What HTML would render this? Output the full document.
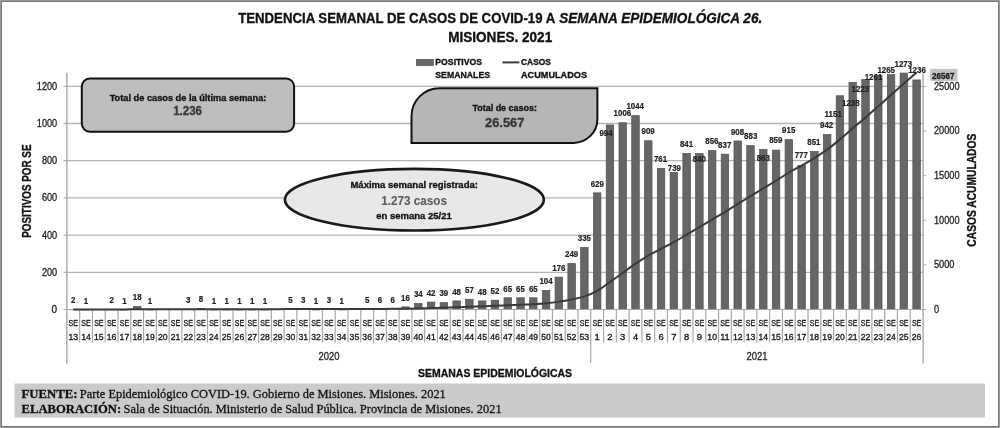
<!DOCTYPE html><html><head><meta charset="utf-8"><style>html,body{margin:0;padding:0;background:#fff;}svg{display:block;filter:grayscale(1);}text{font-family:"Liberation Sans",sans-serif;}</style></head><body>
<svg width="1000" height="428" viewBox="0 0 1000 428">
<rect x="0" y="0" width="1000" height="428" fill="#fff"/>
<rect x="0.5" y="0.5" width="999" height="427" fill="none" stroke="#9a9a9a" stroke-width="1"/>
<rect x="1.5" y="1.5" width="997" height="425" fill="none" stroke="#767676" stroke-width="1"/>
<text x="238.2" y="22.5" font-size="14" font-weight="bold" fill="#111" stroke="#111" stroke-width="0.32" textLength="317" lengthAdjust="spacingAndGlyphs">TENDENCIA SEMANAL DE CASOS DE COVID-19 A</text>
<text x="559.2" y="22.5" font-size="14" font-weight="bold" font-style="italic" fill="#111" stroke="#111" stroke-width="0.32" textLength="203" lengthAdjust="spacingAndGlyphs">SEMANA EPIDEMIOLÓGICA 26.</text>
<text x="448.2" y="42" font-size="14" font-weight="bold" fill="#111" stroke="#111" stroke-width="0.32" textLength="104" lengthAdjust="spacingAndGlyphs">MISIONES. 2021</text>
<line x1="63.5" y1="272.30" x2="923.0" y2="272.30" stroke="#b4b4b4" stroke-width="1.3"/>
<text x="57.2" y="275.7" font-size="10" fill="#222" stroke="#222" stroke-width="0.28" text-anchor="end" textLength="15.3" lengthAdjust="spacingAndGlyphs">200</text>
<line x1="63.5" y1="235.10" x2="923.0" y2="235.10" stroke="#b4b4b4" stroke-width="1.3"/>
<text x="57.2" y="238.5" font-size="10" fill="#222" stroke="#222" stroke-width="0.28" text-anchor="end" textLength="15.3" lengthAdjust="spacingAndGlyphs">400</text>
<line x1="63.5" y1="197.90" x2="923.0" y2="197.90" stroke="#b4b4b4" stroke-width="1.3"/>
<text x="57.2" y="201.3" font-size="10" fill="#222" stroke="#222" stroke-width="0.28" text-anchor="end" textLength="15.3" lengthAdjust="spacingAndGlyphs">600</text>
<line x1="63.5" y1="160.70" x2="923.0" y2="160.70" stroke="#b4b4b4" stroke-width="1.3"/>
<text x="57.2" y="164.1" font-size="10" fill="#222" stroke="#222" stroke-width="0.28" text-anchor="end" textLength="15.3" lengthAdjust="spacingAndGlyphs">800</text>
<line x1="63.5" y1="123.50" x2="923.0" y2="123.50" stroke="#b4b4b4" stroke-width="1.3"/>
<text x="57.2" y="126.9" font-size="10" fill="#222" stroke="#222" stroke-width="0.28" text-anchor="end" textLength="20.4" lengthAdjust="spacingAndGlyphs">1000</text>
<line x1="63.5" y1="86.30" x2="923.0" y2="86.30" stroke="#b4b4b4" stroke-width="1.3"/>
<text x="57.2" y="89.7" font-size="10" fill="#222" stroke="#222" stroke-width="0.28" text-anchor="end" textLength="20.4" lengthAdjust="spacingAndGlyphs">1200</text>
<text x="57.0" y="312.9" font-size="10" fill="#222" stroke="#222" stroke-width="0.28" text-anchor="end">0</text>
<line x1="923.0" y1="309.5" x2="926" y2="309.5" stroke="#a8a8a8" stroke-width="1"/>
<text x="934" y="312.7" font-size="10" fill="#222" stroke="#222" stroke-width="0.28" textLength="5.1" lengthAdjust="spacingAndGlyphs">0</text>
<line x1="923.0" y1="264.9" x2="926" y2="264.9" stroke="#a8a8a8" stroke-width="1"/>
<text x="934" y="268.1" font-size="10" fill="#222" stroke="#222" stroke-width="0.28" textLength="20.5" lengthAdjust="spacingAndGlyphs">5000</text>
<line x1="923.0" y1="220.3" x2="926" y2="220.3" stroke="#a8a8a8" stroke-width="1"/>
<text x="934" y="223.5" font-size="10" fill="#222" stroke="#222" stroke-width="0.28" textLength="25.6" lengthAdjust="spacingAndGlyphs">10000</text>
<line x1="923.0" y1="175.7" x2="926" y2="175.7" stroke="#a8a8a8" stroke-width="1"/>
<text x="934" y="178.9" font-size="10" fill="#222" stroke="#222" stroke-width="0.28" textLength="25.6" lengthAdjust="spacingAndGlyphs">15000</text>
<line x1="923.0" y1="131.1" x2="926" y2="131.1" stroke="#a8a8a8" stroke-width="1"/>
<text x="934" y="134.3" font-size="10" fill="#222" stroke="#222" stroke-width="0.28" textLength="25.6" lengthAdjust="spacingAndGlyphs">20000</text>
<line x1="923.0" y1="86.5" x2="926" y2="86.5" stroke="#a8a8a8" stroke-width="1"/>
<text x="934" y="89.7" font-size="10" fill="#222" stroke="#222" stroke-width="0.28" textLength="25.6" lengthAdjust="spacingAndGlyphs">25000</text>
<rect x="69.54" y="309.48" width="7.50" height="0.30" fill="#666666" stroke="#505050" stroke-width="0.7"/>
<rect x="82.32" y="309.66" width="7.50" height="0.30" fill="#666666" stroke="#505050" stroke-width="0.7"/>
<rect x="107.87" y="309.48" width="7.50" height="0.30" fill="#666666" stroke="#505050" stroke-width="0.7"/>
<rect x="120.65" y="309.66" width="7.50" height="0.30" fill="#666666" stroke="#505050" stroke-width="0.7"/>
<rect x="133.43" y="306.50" width="7.50" height="3.00" fill="#666666" stroke="#505050" stroke-width="0.7"/>
<rect x="146.20" y="309.66" width="7.50" height="0.30" fill="#666666" stroke="#505050" stroke-width="0.7"/>
<rect x="184.54" y="309.29" width="7.50" height="0.30" fill="#666666" stroke="#505050" stroke-width="0.7"/>
<rect x="197.31" y="308.36" width="7.50" height="1.14" fill="#666666" stroke="#505050" stroke-width="0.7"/>
<rect x="210.09" y="309.66" width="7.50" height="0.30" fill="#666666" stroke="#505050" stroke-width="0.7"/>
<rect x="222.87" y="309.66" width="7.50" height="0.30" fill="#666666" stroke="#505050" stroke-width="0.7"/>
<rect x="235.65" y="309.66" width="7.50" height="0.30" fill="#666666" stroke="#505050" stroke-width="0.7"/>
<rect x="248.43" y="309.66" width="7.50" height="0.30" fill="#666666" stroke="#505050" stroke-width="0.7"/>
<rect x="261.20" y="309.66" width="7.50" height="0.30" fill="#666666" stroke="#505050" stroke-width="0.7"/>
<rect x="286.76" y="308.92" width="7.50" height="0.58" fill="#666666" stroke="#505050" stroke-width="0.7"/>
<rect x="299.54" y="309.29" width="7.50" height="0.30" fill="#666666" stroke="#505050" stroke-width="0.7"/>
<rect x="312.31" y="309.66" width="7.50" height="0.30" fill="#666666" stroke="#505050" stroke-width="0.7"/>
<rect x="325.09" y="309.29" width="7.50" height="0.30" fill="#666666" stroke="#505050" stroke-width="0.7"/>
<rect x="337.87" y="309.66" width="7.50" height="0.30" fill="#666666" stroke="#505050" stroke-width="0.7"/>
<rect x="363.42" y="308.92" width="7.50" height="0.58" fill="#666666" stroke="#505050" stroke-width="0.7"/>
<rect x="376.20" y="308.73" width="7.50" height="0.77" fill="#666666" stroke="#505050" stroke-width="0.7"/>
<rect x="388.98" y="308.73" width="7.50" height="0.77" fill="#666666" stroke="#505050" stroke-width="0.7"/>
<rect x="401.76" y="306.87" width="7.50" height="2.63" fill="#666666" stroke="#505050" stroke-width="0.7"/>
<rect x="414.53" y="303.53" width="7.50" height="5.97" fill="#666666" stroke="#505050" stroke-width="0.7"/>
<rect x="427.31" y="302.04" width="7.50" height="7.46" fill="#666666" stroke="#505050" stroke-width="0.7"/>
<rect x="440.09" y="302.60" width="7.50" height="6.90" fill="#666666" stroke="#505050" stroke-width="0.7"/>
<rect x="452.87" y="300.92" width="7.50" height="8.58" fill="#666666" stroke="#505050" stroke-width="0.7"/>
<rect x="465.64" y="299.25" width="7.50" height="10.25" fill="#666666" stroke="#505050" stroke-width="0.7"/>
<rect x="478.42" y="300.92" width="7.50" height="8.58" fill="#666666" stroke="#505050" stroke-width="0.7"/>
<rect x="491.20" y="300.18" width="7.50" height="9.32" fill="#666666" stroke="#505050" stroke-width="0.7"/>
<rect x="503.98" y="297.76" width="7.50" height="11.74" fill="#666666" stroke="#505050" stroke-width="0.7"/>
<rect x="516.76" y="297.76" width="7.50" height="11.74" fill="#666666" stroke="#505050" stroke-width="0.7"/>
<rect x="529.53" y="297.76" width="7.50" height="11.74" fill="#666666" stroke="#505050" stroke-width="0.7"/>
<rect x="542.31" y="290.51" width="7.50" height="18.99" fill="#666666" stroke="#505050" stroke-width="0.7"/>
<rect x="555.09" y="277.11" width="7.50" height="32.39" fill="#666666" stroke="#505050" stroke-width="0.7"/>
<rect x="567.87" y="263.54" width="7.50" height="45.96" fill="#666666" stroke="#505050" stroke-width="0.7"/>
<rect x="580.64" y="247.54" width="7.50" height="61.96" fill="#666666" stroke="#505050" stroke-width="0.7"/>
<rect x="593.42" y="192.86" width="7.50" height="116.64" fill="#666666" stroke="#505050" stroke-width="0.7"/>
<rect x="606.20" y="124.97" width="7.50" height="184.53" fill="#666666" stroke="#505050" stroke-width="0.7"/>
<rect x="618.98" y="122.73" width="7.50" height="186.77" fill="#666666" stroke="#505050" stroke-width="0.7"/>
<rect x="631.75" y="115.67" width="7.50" height="193.83" fill="#666666" stroke="#505050" stroke-width="0.7"/>
<rect x="644.53" y="140.78" width="7.50" height="168.72" fill="#666666" stroke="#505050" stroke-width="0.7"/>
<rect x="657.31" y="168.30" width="7.50" height="141.20" fill="#666666" stroke="#505050" stroke-width="0.7"/>
<rect x="670.09" y="172.40" width="7.50" height="137.10" fill="#666666" stroke="#505050" stroke-width="0.7"/>
<rect x="682.86" y="153.42" width="7.50" height="156.08" fill="#666666" stroke="#505050" stroke-width="0.7"/>
<rect x="695.64" y="153.61" width="7.50" height="155.89" fill="#666666" stroke="#505050" stroke-width="0.7"/>
<rect x="708.42" y="150.63" width="7.50" height="158.87" fill="#666666" stroke="#505050" stroke-width="0.7"/>
<rect x="721.20" y="154.17" width="7.50" height="155.33" fill="#666666" stroke="#505050" stroke-width="0.7"/>
<rect x="733.97" y="140.96" width="7.50" height="168.54" fill="#666666" stroke="#505050" stroke-width="0.7"/>
<rect x="746.75" y="145.61" width="7.50" height="163.89" fill="#666666" stroke="#505050" stroke-width="0.7"/>
<rect x="759.53" y="149.33" width="7.50" height="160.17" fill="#666666" stroke="#505050" stroke-width="0.7"/>
<rect x="772.31" y="150.08" width="7.50" height="159.42" fill="#666666" stroke="#505050" stroke-width="0.7"/>
<rect x="785.09" y="139.66" width="7.50" height="169.84" fill="#666666" stroke="#505050" stroke-width="0.7"/>
<rect x="797.86" y="165.33" width="7.50" height="144.17" fill="#666666" stroke="#505050" stroke-width="0.7"/>
<rect x="810.64" y="151.56" width="7.50" height="157.94" fill="#666666" stroke="#505050" stroke-width="0.7"/>
<rect x="823.42" y="134.64" width="7.50" height="174.86" fill="#666666" stroke="#505050" stroke-width="0.7"/>
<rect x="836.20" y="95.76" width="7.50" height="213.74" fill="#666666" stroke="#505050" stroke-width="0.7"/>
<rect x="848.97" y="82.37" width="7.50" height="227.13" fill="#666666" stroke="#505050" stroke-width="0.7"/>
<rect x="861.75" y="79.58" width="7.50" height="229.92" fill="#666666" stroke="#505050" stroke-width="0.7"/>
<rect x="874.53" y="75.30" width="7.50" height="234.20" fill="#666666" stroke="#505050" stroke-width="0.7"/>
<rect x="887.31" y="74.56" width="7.50" height="234.94" fill="#666666" stroke="#505050" stroke-width="0.7"/>
<rect x="900.08" y="73.07" width="7.50" height="236.43" fill="#666666" stroke="#505050" stroke-width="0.7"/>
<rect x="912.86" y="79.95" width="7.50" height="229.55" fill="#666666" stroke="#505050" stroke-width="0.7"/>
<line x1="66.8" y1="72.8" x2="66.8" y2="363.5" stroke="#a8a8a8" stroke-width="1.4"/>
<line x1="923.1" y1="73.5" x2="923.1" y2="363.5" stroke="#a8a8a8" stroke-width="1.4"/>
<line x1="63.5" y1="309.5" x2="926" y2="309.5" stroke="#a8a8a8" stroke-width="1"/>
<line x1="79.68" y1="309.5" x2="79.68" y2="342.6" stroke="#a8a8a8" stroke-width="1.2"/>
<line x1="92.46" y1="309.5" x2="92.46" y2="342.6" stroke="#a8a8a8" stroke-width="1.2"/>
<line x1="105.23" y1="309.5" x2="105.23" y2="342.6" stroke="#a8a8a8" stroke-width="1.2"/>
<line x1="118.01" y1="309.5" x2="118.01" y2="342.6" stroke="#a8a8a8" stroke-width="1.2"/>
<line x1="130.79" y1="309.5" x2="130.79" y2="342.6" stroke="#a8a8a8" stroke-width="1.2"/>
<line x1="143.57" y1="309.5" x2="143.57" y2="342.6" stroke="#a8a8a8" stroke-width="1.2"/>
<line x1="156.34" y1="309.5" x2="156.34" y2="342.6" stroke="#a8a8a8" stroke-width="1.2"/>
<line x1="169.12" y1="309.5" x2="169.12" y2="342.6" stroke="#a8a8a8" stroke-width="1.2"/>
<line x1="181.90" y1="309.5" x2="181.90" y2="342.6" stroke="#a8a8a8" stroke-width="1.2"/>
<line x1="194.68" y1="309.5" x2="194.68" y2="342.6" stroke="#a8a8a8" stroke-width="1.2"/>
<line x1="207.45" y1="309.5" x2="207.45" y2="342.6" stroke="#a8a8a8" stroke-width="1.2"/>
<line x1="220.23" y1="309.5" x2="220.23" y2="342.6" stroke="#a8a8a8" stroke-width="1.2"/>
<line x1="233.01" y1="309.5" x2="233.01" y2="342.6" stroke="#a8a8a8" stroke-width="1.2"/>
<line x1="245.79" y1="309.5" x2="245.79" y2="342.6" stroke="#a8a8a8" stroke-width="1.2"/>
<line x1="258.56" y1="309.5" x2="258.56" y2="342.6" stroke="#a8a8a8" stroke-width="1.2"/>
<line x1="271.34" y1="309.5" x2="271.34" y2="342.6" stroke="#a8a8a8" stroke-width="1.2"/>
<line x1="284.12" y1="309.5" x2="284.12" y2="342.6" stroke="#a8a8a8" stroke-width="1.2"/>
<line x1="296.90" y1="309.5" x2="296.90" y2="342.6" stroke="#a8a8a8" stroke-width="1.2"/>
<line x1="309.67" y1="309.5" x2="309.67" y2="342.6" stroke="#a8a8a8" stroke-width="1.2"/>
<line x1="322.45" y1="309.5" x2="322.45" y2="342.6" stroke="#a8a8a8" stroke-width="1.2"/>
<line x1="335.23" y1="309.5" x2="335.23" y2="342.6" stroke="#a8a8a8" stroke-width="1.2"/>
<line x1="348.01" y1="309.5" x2="348.01" y2="342.6" stroke="#a8a8a8" stroke-width="1.2"/>
<line x1="360.79" y1="309.5" x2="360.79" y2="342.6" stroke="#a8a8a8" stroke-width="1.2"/>
<line x1="373.56" y1="309.5" x2="373.56" y2="342.6" stroke="#a8a8a8" stroke-width="1.2"/>
<line x1="386.34" y1="309.5" x2="386.34" y2="342.6" stroke="#a8a8a8" stroke-width="1.2"/>
<line x1="399.12" y1="309.5" x2="399.12" y2="342.6" stroke="#a8a8a8" stroke-width="1.2"/>
<line x1="411.90" y1="309.5" x2="411.90" y2="342.6" stroke="#a8a8a8" stroke-width="1.2"/>
<line x1="424.67" y1="309.5" x2="424.67" y2="342.6" stroke="#a8a8a8" stroke-width="1.2"/>
<line x1="437.45" y1="309.5" x2="437.45" y2="342.6" stroke="#a8a8a8" stroke-width="1.2"/>
<line x1="450.23" y1="309.5" x2="450.23" y2="342.6" stroke="#a8a8a8" stroke-width="1.2"/>
<line x1="463.01" y1="309.5" x2="463.01" y2="342.6" stroke="#a8a8a8" stroke-width="1.2"/>
<line x1="475.78" y1="309.5" x2="475.78" y2="342.6" stroke="#a8a8a8" stroke-width="1.2"/>
<line x1="488.56" y1="309.5" x2="488.56" y2="342.6" stroke="#a8a8a8" stroke-width="1.2"/>
<line x1="501.34" y1="309.5" x2="501.34" y2="342.6" stroke="#a8a8a8" stroke-width="1.2"/>
<line x1="514.12" y1="309.5" x2="514.12" y2="342.6" stroke="#a8a8a8" stroke-width="1.2"/>
<line x1="526.89" y1="309.5" x2="526.89" y2="342.6" stroke="#a8a8a8" stroke-width="1.2"/>
<line x1="539.67" y1="309.5" x2="539.67" y2="342.6" stroke="#a8a8a8" stroke-width="1.2"/>
<line x1="552.45" y1="309.5" x2="552.45" y2="342.6" stroke="#a8a8a8" stroke-width="1.2"/>
<line x1="565.23" y1="309.5" x2="565.23" y2="342.6" stroke="#a8a8a8" stroke-width="1.2"/>
<line x1="578.00" y1="309.5" x2="578.00" y2="342.6" stroke="#a8a8a8" stroke-width="1.2"/>
<line x1="590.78" y1="309.5" x2="590.78" y2="363" stroke="#a8a8a8" stroke-width="1.2"/>
<line x1="603.56" y1="309.5" x2="603.56" y2="342.6" stroke="#a8a8a8" stroke-width="1.2"/>
<line x1="616.34" y1="309.5" x2="616.34" y2="342.6" stroke="#a8a8a8" stroke-width="1.2"/>
<line x1="629.11" y1="309.5" x2="629.11" y2="342.6" stroke="#a8a8a8" stroke-width="1.2"/>
<line x1="641.89" y1="309.5" x2="641.89" y2="342.6" stroke="#a8a8a8" stroke-width="1.2"/>
<line x1="654.67" y1="309.5" x2="654.67" y2="342.6" stroke="#a8a8a8" stroke-width="1.2"/>
<line x1="667.45" y1="309.5" x2="667.45" y2="342.6" stroke="#a8a8a8" stroke-width="1.2"/>
<line x1="680.23" y1="309.5" x2="680.23" y2="342.6" stroke="#a8a8a8" stroke-width="1.2"/>
<line x1="693.00" y1="309.5" x2="693.00" y2="342.6" stroke="#a8a8a8" stroke-width="1.2"/>
<line x1="705.78" y1="309.5" x2="705.78" y2="342.6" stroke="#a8a8a8" stroke-width="1.2"/>
<line x1="718.56" y1="309.5" x2="718.56" y2="342.6" stroke="#a8a8a8" stroke-width="1.2"/>
<line x1="731.34" y1="309.5" x2="731.34" y2="342.6" stroke="#a8a8a8" stroke-width="1.2"/>
<line x1="744.11" y1="309.5" x2="744.11" y2="342.6" stroke="#a8a8a8" stroke-width="1.2"/>
<line x1="756.89" y1="309.5" x2="756.89" y2="342.6" stroke="#a8a8a8" stroke-width="1.2"/>
<line x1="769.67" y1="309.5" x2="769.67" y2="342.6" stroke="#a8a8a8" stroke-width="1.2"/>
<line x1="782.45" y1="309.5" x2="782.45" y2="342.6" stroke="#a8a8a8" stroke-width="1.2"/>
<line x1="795.22" y1="309.5" x2="795.22" y2="342.6" stroke="#a8a8a8" stroke-width="1.2"/>
<line x1="808.00" y1="309.5" x2="808.00" y2="342.6" stroke="#a8a8a8" stroke-width="1.2"/>
<line x1="820.78" y1="309.5" x2="820.78" y2="342.6" stroke="#a8a8a8" stroke-width="1.2"/>
<line x1="833.56" y1="309.5" x2="833.56" y2="342.6" stroke="#a8a8a8" stroke-width="1.2"/>
<line x1="846.33" y1="309.5" x2="846.33" y2="342.6" stroke="#a8a8a8" stroke-width="1.2"/>
<line x1="859.11" y1="309.5" x2="859.11" y2="342.6" stroke="#a8a8a8" stroke-width="1.2"/>
<line x1="871.89" y1="309.5" x2="871.89" y2="342.6" stroke="#a8a8a8" stroke-width="1.2"/>
<line x1="884.67" y1="309.5" x2="884.67" y2="342.6" stroke="#a8a8a8" stroke-width="1.2"/>
<line x1="897.44" y1="309.5" x2="897.44" y2="342.6" stroke="#a8a8a8" stroke-width="1.2"/>
<line x1="910.22" y1="309.5" x2="910.22" y2="342.6" stroke="#a8a8a8" stroke-width="1.2"/>
<text x="73.29" y="326.3" font-size="9.4" fill="#1a1a1a" stroke="#1a1a1a" stroke-width="0.35" text-anchor="middle" textLength="9.4" lengthAdjust="spacingAndGlyphs">SE</text>
<text x="73.29" y="340.2" font-size="9.4" fill="#1a1a1a" stroke="#1a1a1a" stroke-width="0.35" text-anchor="middle" textLength="9.6" lengthAdjust="spacingAndGlyphs">13</text>
<text x="86.07" y="326.3" font-size="9.4" fill="#1a1a1a" stroke="#1a1a1a" stroke-width="0.35" text-anchor="middle" textLength="9.4" lengthAdjust="spacingAndGlyphs">SE</text>
<text x="86.07" y="340.2" font-size="9.4" fill="#1a1a1a" stroke="#1a1a1a" stroke-width="0.35" text-anchor="middle" textLength="9.6" lengthAdjust="spacingAndGlyphs">14</text>
<text x="98.84" y="326.3" font-size="9.4" fill="#1a1a1a" stroke="#1a1a1a" stroke-width="0.35" text-anchor="middle" textLength="9.4" lengthAdjust="spacingAndGlyphs">SE</text>
<text x="98.84" y="340.2" font-size="9.4" fill="#1a1a1a" stroke="#1a1a1a" stroke-width="0.35" text-anchor="middle" textLength="9.6" lengthAdjust="spacingAndGlyphs">15</text>
<text x="111.62" y="326.3" font-size="9.4" fill="#1a1a1a" stroke="#1a1a1a" stroke-width="0.35" text-anchor="middle" textLength="9.4" lengthAdjust="spacingAndGlyphs">SE</text>
<text x="111.62" y="340.2" font-size="9.4" fill="#1a1a1a" stroke="#1a1a1a" stroke-width="0.35" text-anchor="middle" textLength="9.6" lengthAdjust="spacingAndGlyphs">16</text>
<text x="124.40" y="326.3" font-size="9.4" fill="#1a1a1a" stroke="#1a1a1a" stroke-width="0.35" text-anchor="middle" textLength="9.4" lengthAdjust="spacingAndGlyphs">SE</text>
<text x="124.40" y="340.2" font-size="9.4" fill="#1a1a1a" stroke="#1a1a1a" stroke-width="0.35" text-anchor="middle" textLength="9.6" lengthAdjust="spacingAndGlyphs">17</text>
<text x="137.18" y="326.3" font-size="9.4" fill="#1a1a1a" stroke="#1a1a1a" stroke-width="0.35" text-anchor="middle" textLength="9.4" lengthAdjust="spacingAndGlyphs">SE</text>
<text x="137.18" y="340.2" font-size="9.4" fill="#1a1a1a" stroke="#1a1a1a" stroke-width="0.35" text-anchor="middle" textLength="9.6" lengthAdjust="spacingAndGlyphs">18</text>
<text x="149.95" y="326.3" font-size="9.4" fill="#1a1a1a" stroke="#1a1a1a" stroke-width="0.35" text-anchor="middle" textLength="9.4" lengthAdjust="spacingAndGlyphs">SE</text>
<text x="149.95" y="340.2" font-size="9.4" fill="#1a1a1a" stroke="#1a1a1a" stroke-width="0.35" text-anchor="middle" textLength="9.6" lengthAdjust="spacingAndGlyphs">19</text>
<text x="162.73" y="326.3" font-size="9.4" fill="#1a1a1a" stroke="#1a1a1a" stroke-width="0.35" text-anchor="middle" textLength="9.4" lengthAdjust="spacingAndGlyphs">SE</text>
<text x="162.73" y="340.2" font-size="9.4" fill="#1a1a1a" stroke="#1a1a1a" stroke-width="0.35" text-anchor="middle" textLength="9.6" lengthAdjust="spacingAndGlyphs">20</text>
<text x="175.51" y="326.3" font-size="9.4" fill="#1a1a1a" stroke="#1a1a1a" stroke-width="0.35" text-anchor="middle" textLength="9.4" lengthAdjust="spacingAndGlyphs">SE</text>
<text x="175.51" y="340.2" font-size="9.4" fill="#1a1a1a" stroke="#1a1a1a" stroke-width="0.35" text-anchor="middle" textLength="9.6" lengthAdjust="spacingAndGlyphs">21</text>
<text x="188.29" y="326.3" font-size="9.4" fill="#1a1a1a" stroke="#1a1a1a" stroke-width="0.35" text-anchor="middle" textLength="9.4" lengthAdjust="spacingAndGlyphs">SE</text>
<text x="188.29" y="340.2" font-size="9.4" fill="#1a1a1a" stroke="#1a1a1a" stroke-width="0.35" text-anchor="middle" textLength="9.6" lengthAdjust="spacingAndGlyphs">22</text>
<text x="201.06" y="326.3" font-size="9.4" fill="#1a1a1a" stroke="#1a1a1a" stroke-width="0.35" text-anchor="middle" textLength="9.4" lengthAdjust="spacingAndGlyphs">SE</text>
<text x="201.06" y="340.2" font-size="9.4" fill="#1a1a1a" stroke="#1a1a1a" stroke-width="0.35" text-anchor="middle" textLength="9.6" lengthAdjust="spacingAndGlyphs">23</text>
<text x="213.84" y="326.3" font-size="9.4" fill="#1a1a1a" stroke="#1a1a1a" stroke-width="0.35" text-anchor="middle" textLength="9.4" lengthAdjust="spacingAndGlyphs">SE</text>
<text x="213.84" y="340.2" font-size="9.4" fill="#1a1a1a" stroke="#1a1a1a" stroke-width="0.35" text-anchor="middle" textLength="9.6" lengthAdjust="spacingAndGlyphs">24</text>
<text x="226.62" y="326.3" font-size="9.4" fill="#1a1a1a" stroke="#1a1a1a" stroke-width="0.35" text-anchor="middle" textLength="9.4" lengthAdjust="spacingAndGlyphs">SE</text>
<text x="226.62" y="340.2" font-size="9.4" fill="#1a1a1a" stroke="#1a1a1a" stroke-width="0.35" text-anchor="middle" textLength="9.6" lengthAdjust="spacingAndGlyphs">25</text>
<text x="239.40" y="326.3" font-size="9.4" fill="#1a1a1a" stroke="#1a1a1a" stroke-width="0.35" text-anchor="middle" textLength="9.4" lengthAdjust="spacingAndGlyphs">SE</text>
<text x="239.40" y="340.2" font-size="9.4" fill="#1a1a1a" stroke="#1a1a1a" stroke-width="0.35" text-anchor="middle" textLength="9.6" lengthAdjust="spacingAndGlyphs">26</text>
<text x="252.18" y="326.3" font-size="9.4" fill="#1a1a1a" stroke="#1a1a1a" stroke-width="0.35" text-anchor="middle" textLength="9.4" lengthAdjust="spacingAndGlyphs">SE</text>
<text x="252.18" y="340.2" font-size="9.4" fill="#1a1a1a" stroke="#1a1a1a" stroke-width="0.35" text-anchor="middle" textLength="9.6" lengthAdjust="spacingAndGlyphs">27</text>
<text x="264.95" y="326.3" font-size="9.4" fill="#1a1a1a" stroke="#1a1a1a" stroke-width="0.35" text-anchor="middle" textLength="9.4" lengthAdjust="spacingAndGlyphs">SE</text>
<text x="264.95" y="340.2" font-size="9.4" fill="#1a1a1a" stroke="#1a1a1a" stroke-width="0.35" text-anchor="middle" textLength="9.6" lengthAdjust="spacingAndGlyphs">28</text>
<text x="277.73" y="326.3" font-size="9.4" fill="#1a1a1a" stroke="#1a1a1a" stroke-width="0.35" text-anchor="middle" textLength="9.4" lengthAdjust="spacingAndGlyphs">SE</text>
<text x="277.73" y="340.2" font-size="9.4" fill="#1a1a1a" stroke="#1a1a1a" stroke-width="0.35" text-anchor="middle" textLength="9.6" lengthAdjust="spacingAndGlyphs">29</text>
<text x="290.51" y="326.3" font-size="9.4" fill="#1a1a1a" stroke="#1a1a1a" stroke-width="0.35" text-anchor="middle" textLength="9.4" lengthAdjust="spacingAndGlyphs">SE</text>
<text x="290.51" y="340.2" font-size="9.4" fill="#1a1a1a" stroke="#1a1a1a" stroke-width="0.35" text-anchor="middle" textLength="9.6" lengthAdjust="spacingAndGlyphs">30</text>
<text x="303.29" y="326.3" font-size="9.4" fill="#1a1a1a" stroke="#1a1a1a" stroke-width="0.35" text-anchor="middle" textLength="9.4" lengthAdjust="spacingAndGlyphs">SE</text>
<text x="303.29" y="340.2" font-size="9.4" fill="#1a1a1a" stroke="#1a1a1a" stroke-width="0.35" text-anchor="middle" textLength="9.6" lengthAdjust="spacingAndGlyphs">31</text>
<text x="316.06" y="326.3" font-size="9.4" fill="#1a1a1a" stroke="#1a1a1a" stroke-width="0.35" text-anchor="middle" textLength="9.4" lengthAdjust="spacingAndGlyphs">SE</text>
<text x="316.06" y="340.2" font-size="9.4" fill="#1a1a1a" stroke="#1a1a1a" stroke-width="0.35" text-anchor="middle" textLength="9.6" lengthAdjust="spacingAndGlyphs">32</text>
<text x="328.84" y="326.3" font-size="9.4" fill="#1a1a1a" stroke="#1a1a1a" stroke-width="0.35" text-anchor="middle" textLength="9.4" lengthAdjust="spacingAndGlyphs">SE</text>
<text x="328.84" y="340.2" font-size="9.4" fill="#1a1a1a" stroke="#1a1a1a" stroke-width="0.35" text-anchor="middle" textLength="9.6" lengthAdjust="spacingAndGlyphs">33</text>
<text x="341.62" y="326.3" font-size="9.4" fill="#1a1a1a" stroke="#1a1a1a" stroke-width="0.35" text-anchor="middle" textLength="9.4" lengthAdjust="spacingAndGlyphs">SE</text>
<text x="341.62" y="340.2" font-size="9.4" fill="#1a1a1a" stroke="#1a1a1a" stroke-width="0.35" text-anchor="middle" textLength="9.6" lengthAdjust="spacingAndGlyphs">34</text>
<text x="354.40" y="326.3" font-size="9.4" fill="#1a1a1a" stroke="#1a1a1a" stroke-width="0.35" text-anchor="middle" textLength="9.4" lengthAdjust="spacingAndGlyphs">SE</text>
<text x="354.40" y="340.2" font-size="9.4" fill="#1a1a1a" stroke="#1a1a1a" stroke-width="0.35" text-anchor="middle" textLength="9.6" lengthAdjust="spacingAndGlyphs">35</text>
<text x="367.17" y="326.3" font-size="9.4" fill="#1a1a1a" stroke="#1a1a1a" stroke-width="0.35" text-anchor="middle" textLength="9.4" lengthAdjust="spacingAndGlyphs">SE</text>
<text x="367.17" y="340.2" font-size="9.4" fill="#1a1a1a" stroke="#1a1a1a" stroke-width="0.35" text-anchor="middle" textLength="9.6" lengthAdjust="spacingAndGlyphs">36</text>
<text x="379.95" y="326.3" font-size="9.4" fill="#1a1a1a" stroke="#1a1a1a" stroke-width="0.35" text-anchor="middle" textLength="9.4" lengthAdjust="spacingAndGlyphs">SE</text>
<text x="379.95" y="340.2" font-size="9.4" fill="#1a1a1a" stroke="#1a1a1a" stroke-width="0.35" text-anchor="middle" textLength="9.6" lengthAdjust="spacingAndGlyphs">37</text>
<text x="392.73" y="326.3" font-size="9.4" fill="#1a1a1a" stroke="#1a1a1a" stroke-width="0.35" text-anchor="middle" textLength="9.4" lengthAdjust="spacingAndGlyphs">SE</text>
<text x="392.73" y="340.2" font-size="9.4" fill="#1a1a1a" stroke="#1a1a1a" stroke-width="0.35" text-anchor="middle" textLength="9.6" lengthAdjust="spacingAndGlyphs">38</text>
<text x="405.51" y="326.3" font-size="9.4" fill="#1a1a1a" stroke="#1a1a1a" stroke-width="0.35" text-anchor="middle" textLength="9.4" lengthAdjust="spacingAndGlyphs">SE</text>
<text x="405.51" y="340.2" font-size="9.4" fill="#1a1a1a" stroke="#1a1a1a" stroke-width="0.35" text-anchor="middle" textLength="9.6" lengthAdjust="spacingAndGlyphs">39</text>
<text x="418.28" y="326.3" font-size="9.4" fill="#1a1a1a" stroke="#1a1a1a" stroke-width="0.35" text-anchor="middle" textLength="9.4" lengthAdjust="spacingAndGlyphs">SE</text>
<text x="418.28" y="340.2" font-size="9.4" fill="#1a1a1a" stroke="#1a1a1a" stroke-width="0.35" text-anchor="middle" textLength="9.6" lengthAdjust="spacingAndGlyphs">40</text>
<text x="431.06" y="326.3" font-size="9.4" fill="#1a1a1a" stroke="#1a1a1a" stroke-width="0.35" text-anchor="middle" textLength="9.4" lengthAdjust="spacingAndGlyphs">SE</text>
<text x="431.06" y="340.2" font-size="9.4" fill="#1a1a1a" stroke="#1a1a1a" stroke-width="0.35" text-anchor="middle" textLength="9.6" lengthAdjust="spacingAndGlyphs">41</text>
<text x="443.84" y="326.3" font-size="9.4" fill="#1a1a1a" stroke="#1a1a1a" stroke-width="0.35" text-anchor="middle" textLength="9.4" lengthAdjust="spacingAndGlyphs">SE</text>
<text x="443.84" y="340.2" font-size="9.4" fill="#1a1a1a" stroke="#1a1a1a" stroke-width="0.35" text-anchor="middle" textLength="9.6" lengthAdjust="spacingAndGlyphs">42</text>
<text x="456.62" y="326.3" font-size="9.4" fill="#1a1a1a" stroke="#1a1a1a" stroke-width="0.35" text-anchor="middle" textLength="9.4" lengthAdjust="spacingAndGlyphs">SE</text>
<text x="456.62" y="340.2" font-size="9.4" fill="#1a1a1a" stroke="#1a1a1a" stroke-width="0.35" text-anchor="middle" textLength="9.6" lengthAdjust="spacingAndGlyphs">43</text>
<text x="469.39" y="326.3" font-size="9.4" fill="#1a1a1a" stroke="#1a1a1a" stroke-width="0.35" text-anchor="middle" textLength="9.4" lengthAdjust="spacingAndGlyphs">SE</text>
<text x="469.39" y="340.2" font-size="9.4" fill="#1a1a1a" stroke="#1a1a1a" stroke-width="0.35" text-anchor="middle" textLength="9.6" lengthAdjust="spacingAndGlyphs">44</text>
<text x="482.17" y="326.3" font-size="9.4" fill="#1a1a1a" stroke="#1a1a1a" stroke-width="0.35" text-anchor="middle" textLength="9.4" lengthAdjust="spacingAndGlyphs">SE</text>
<text x="482.17" y="340.2" font-size="9.4" fill="#1a1a1a" stroke="#1a1a1a" stroke-width="0.35" text-anchor="middle" textLength="9.6" lengthAdjust="spacingAndGlyphs">45</text>
<text x="494.95" y="326.3" font-size="9.4" fill="#1a1a1a" stroke="#1a1a1a" stroke-width="0.35" text-anchor="middle" textLength="9.4" lengthAdjust="spacingAndGlyphs">SE</text>
<text x="494.95" y="340.2" font-size="9.4" fill="#1a1a1a" stroke="#1a1a1a" stroke-width="0.35" text-anchor="middle" textLength="9.6" lengthAdjust="spacingAndGlyphs">46</text>
<text x="507.73" y="326.3" font-size="9.4" fill="#1a1a1a" stroke="#1a1a1a" stroke-width="0.35" text-anchor="middle" textLength="9.4" lengthAdjust="spacingAndGlyphs">SE</text>
<text x="507.73" y="340.2" font-size="9.4" fill="#1a1a1a" stroke="#1a1a1a" stroke-width="0.35" text-anchor="middle" textLength="9.6" lengthAdjust="spacingAndGlyphs">47</text>
<text x="520.51" y="326.3" font-size="9.4" fill="#1a1a1a" stroke="#1a1a1a" stroke-width="0.35" text-anchor="middle" textLength="9.4" lengthAdjust="spacingAndGlyphs">SE</text>
<text x="520.51" y="340.2" font-size="9.4" fill="#1a1a1a" stroke="#1a1a1a" stroke-width="0.35" text-anchor="middle" textLength="9.6" lengthAdjust="spacingAndGlyphs">48</text>
<text x="533.28" y="326.3" font-size="9.4" fill="#1a1a1a" stroke="#1a1a1a" stroke-width="0.35" text-anchor="middle" textLength="9.4" lengthAdjust="spacingAndGlyphs">SE</text>
<text x="533.28" y="340.2" font-size="9.4" fill="#1a1a1a" stroke="#1a1a1a" stroke-width="0.35" text-anchor="middle" textLength="9.6" lengthAdjust="spacingAndGlyphs">49</text>
<text x="546.06" y="326.3" font-size="9.4" fill="#1a1a1a" stroke="#1a1a1a" stroke-width="0.35" text-anchor="middle" textLength="9.4" lengthAdjust="spacingAndGlyphs">SE</text>
<text x="546.06" y="340.2" font-size="9.4" fill="#1a1a1a" stroke="#1a1a1a" stroke-width="0.35" text-anchor="middle" textLength="9.6" lengthAdjust="spacingAndGlyphs">50</text>
<text x="558.84" y="326.3" font-size="9.4" fill="#1a1a1a" stroke="#1a1a1a" stroke-width="0.35" text-anchor="middle" textLength="9.4" lengthAdjust="spacingAndGlyphs">SE</text>
<text x="558.84" y="340.2" font-size="9.4" fill="#1a1a1a" stroke="#1a1a1a" stroke-width="0.35" text-anchor="middle" textLength="9.6" lengthAdjust="spacingAndGlyphs">51</text>
<text x="571.62" y="326.3" font-size="9.4" fill="#1a1a1a" stroke="#1a1a1a" stroke-width="0.35" text-anchor="middle" textLength="9.4" lengthAdjust="spacingAndGlyphs">SE</text>
<text x="571.62" y="340.2" font-size="9.4" fill="#1a1a1a" stroke="#1a1a1a" stroke-width="0.35" text-anchor="middle" textLength="9.6" lengthAdjust="spacingAndGlyphs">52</text>
<text x="584.39" y="326.3" font-size="9.4" fill="#1a1a1a" stroke="#1a1a1a" stroke-width="0.35" text-anchor="middle" textLength="9.4" lengthAdjust="spacingAndGlyphs">SE</text>
<text x="584.39" y="340.2" font-size="9.4" fill="#1a1a1a" stroke="#1a1a1a" stroke-width="0.35" text-anchor="middle" textLength="9.6" lengthAdjust="spacingAndGlyphs">53</text>
<text x="597.17" y="326.3" font-size="9.4" fill="#1a1a1a" stroke="#1a1a1a" stroke-width="0.35" text-anchor="middle" textLength="9.4" lengthAdjust="spacingAndGlyphs">SE</text>
<text x="597.17" y="340.2" font-size="9.4" fill="#1a1a1a" stroke="#1a1a1a" stroke-width="0.35" text-anchor="middle">1</text>
<text x="609.95" y="326.3" font-size="9.4" fill="#1a1a1a" stroke="#1a1a1a" stroke-width="0.35" text-anchor="middle" textLength="9.4" lengthAdjust="spacingAndGlyphs">SE</text>
<text x="609.95" y="340.2" font-size="9.4" fill="#1a1a1a" stroke="#1a1a1a" stroke-width="0.35" text-anchor="middle">2</text>
<text x="622.73" y="326.3" font-size="9.4" fill="#1a1a1a" stroke="#1a1a1a" stroke-width="0.35" text-anchor="middle" textLength="9.4" lengthAdjust="spacingAndGlyphs">SE</text>
<text x="622.73" y="340.2" font-size="9.4" fill="#1a1a1a" stroke="#1a1a1a" stroke-width="0.35" text-anchor="middle">3</text>
<text x="635.50" y="326.3" font-size="9.4" fill="#1a1a1a" stroke="#1a1a1a" stroke-width="0.35" text-anchor="middle" textLength="9.4" lengthAdjust="spacingAndGlyphs">SE</text>
<text x="635.50" y="340.2" font-size="9.4" fill="#1a1a1a" stroke="#1a1a1a" stroke-width="0.35" text-anchor="middle">4</text>
<text x="648.28" y="326.3" font-size="9.4" fill="#1a1a1a" stroke="#1a1a1a" stroke-width="0.35" text-anchor="middle" textLength="9.4" lengthAdjust="spacingAndGlyphs">SE</text>
<text x="648.28" y="340.2" font-size="9.4" fill="#1a1a1a" stroke="#1a1a1a" stroke-width="0.35" text-anchor="middle">5</text>
<text x="661.06" y="326.3" font-size="9.4" fill="#1a1a1a" stroke="#1a1a1a" stroke-width="0.35" text-anchor="middle" textLength="9.4" lengthAdjust="spacingAndGlyphs">SE</text>
<text x="661.06" y="340.2" font-size="9.4" fill="#1a1a1a" stroke="#1a1a1a" stroke-width="0.35" text-anchor="middle">6</text>
<text x="673.84" y="326.3" font-size="9.4" fill="#1a1a1a" stroke="#1a1a1a" stroke-width="0.35" text-anchor="middle" textLength="9.4" lengthAdjust="spacingAndGlyphs">SE</text>
<text x="673.84" y="340.2" font-size="9.4" fill="#1a1a1a" stroke="#1a1a1a" stroke-width="0.35" text-anchor="middle">7</text>
<text x="686.61" y="326.3" font-size="9.4" fill="#1a1a1a" stroke="#1a1a1a" stroke-width="0.35" text-anchor="middle" textLength="9.4" lengthAdjust="spacingAndGlyphs">SE</text>
<text x="686.61" y="340.2" font-size="9.4" fill="#1a1a1a" stroke="#1a1a1a" stroke-width="0.35" text-anchor="middle">8</text>
<text x="699.39" y="326.3" font-size="9.4" fill="#1a1a1a" stroke="#1a1a1a" stroke-width="0.35" text-anchor="middle" textLength="9.4" lengthAdjust="spacingAndGlyphs">SE</text>
<text x="699.39" y="340.2" font-size="9.4" fill="#1a1a1a" stroke="#1a1a1a" stroke-width="0.35" text-anchor="middle">9</text>
<text x="712.17" y="326.3" font-size="9.4" fill="#1a1a1a" stroke="#1a1a1a" stroke-width="0.35" text-anchor="middle" textLength="9.4" lengthAdjust="spacingAndGlyphs">SE</text>
<text x="712.17" y="340.2" font-size="9.4" fill="#1a1a1a" stroke="#1a1a1a" stroke-width="0.35" text-anchor="middle" textLength="9.6" lengthAdjust="spacingAndGlyphs">10</text>
<text x="724.95" y="326.3" font-size="9.4" fill="#1a1a1a" stroke="#1a1a1a" stroke-width="0.35" text-anchor="middle" textLength="9.4" lengthAdjust="spacingAndGlyphs">SE</text>
<text x="724.95" y="340.2" font-size="9.4" fill="#1a1a1a" stroke="#1a1a1a" stroke-width="0.35" text-anchor="middle" textLength="9.6" lengthAdjust="spacingAndGlyphs">11</text>
<text x="737.72" y="326.3" font-size="9.4" fill="#1a1a1a" stroke="#1a1a1a" stroke-width="0.35" text-anchor="middle" textLength="9.4" lengthAdjust="spacingAndGlyphs">SE</text>
<text x="737.72" y="340.2" font-size="9.4" fill="#1a1a1a" stroke="#1a1a1a" stroke-width="0.35" text-anchor="middle" textLength="9.6" lengthAdjust="spacingAndGlyphs">12</text>
<text x="750.50" y="326.3" font-size="9.4" fill="#1a1a1a" stroke="#1a1a1a" stroke-width="0.35" text-anchor="middle" textLength="9.4" lengthAdjust="spacingAndGlyphs">SE</text>
<text x="750.50" y="340.2" font-size="9.4" fill="#1a1a1a" stroke="#1a1a1a" stroke-width="0.35" text-anchor="middle" textLength="9.6" lengthAdjust="spacingAndGlyphs">13</text>
<text x="763.28" y="326.3" font-size="9.4" fill="#1a1a1a" stroke="#1a1a1a" stroke-width="0.35" text-anchor="middle" textLength="9.4" lengthAdjust="spacingAndGlyphs">SE</text>
<text x="763.28" y="340.2" font-size="9.4" fill="#1a1a1a" stroke="#1a1a1a" stroke-width="0.35" text-anchor="middle" textLength="9.6" lengthAdjust="spacingAndGlyphs">14</text>
<text x="776.06" y="326.3" font-size="9.4" fill="#1a1a1a" stroke="#1a1a1a" stroke-width="0.35" text-anchor="middle" textLength="9.4" lengthAdjust="spacingAndGlyphs">SE</text>
<text x="776.06" y="340.2" font-size="9.4" fill="#1a1a1a" stroke="#1a1a1a" stroke-width="0.35" text-anchor="middle" textLength="9.6" lengthAdjust="spacingAndGlyphs">15</text>
<text x="788.84" y="326.3" font-size="9.4" fill="#1a1a1a" stroke="#1a1a1a" stroke-width="0.35" text-anchor="middle" textLength="9.4" lengthAdjust="spacingAndGlyphs">SE</text>
<text x="788.84" y="340.2" font-size="9.4" fill="#1a1a1a" stroke="#1a1a1a" stroke-width="0.35" text-anchor="middle" textLength="9.6" lengthAdjust="spacingAndGlyphs">16</text>
<text x="801.61" y="326.3" font-size="9.4" fill="#1a1a1a" stroke="#1a1a1a" stroke-width="0.35" text-anchor="middle" textLength="9.4" lengthAdjust="spacingAndGlyphs">SE</text>
<text x="801.61" y="340.2" font-size="9.4" fill="#1a1a1a" stroke="#1a1a1a" stroke-width="0.35" text-anchor="middle" textLength="9.6" lengthAdjust="spacingAndGlyphs">17</text>
<text x="814.39" y="326.3" font-size="9.4" fill="#1a1a1a" stroke="#1a1a1a" stroke-width="0.35" text-anchor="middle" textLength="9.4" lengthAdjust="spacingAndGlyphs">SE</text>
<text x="814.39" y="340.2" font-size="9.4" fill="#1a1a1a" stroke="#1a1a1a" stroke-width="0.35" text-anchor="middle" textLength="9.6" lengthAdjust="spacingAndGlyphs">18</text>
<text x="827.17" y="326.3" font-size="9.4" fill="#1a1a1a" stroke="#1a1a1a" stroke-width="0.35" text-anchor="middle" textLength="9.4" lengthAdjust="spacingAndGlyphs">SE</text>
<text x="827.17" y="340.2" font-size="9.4" fill="#1a1a1a" stroke="#1a1a1a" stroke-width="0.35" text-anchor="middle" textLength="9.6" lengthAdjust="spacingAndGlyphs">19</text>
<text x="839.95" y="326.3" font-size="9.4" fill="#1a1a1a" stroke="#1a1a1a" stroke-width="0.35" text-anchor="middle" textLength="9.4" lengthAdjust="spacingAndGlyphs">SE</text>
<text x="839.95" y="340.2" font-size="9.4" fill="#1a1a1a" stroke="#1a1a1a" stroke-width="0.35" text-anchor="middle" textLength="9.6" lengthAdjust="spacingAndGlyphs">20</text>
<text x="852.72" y="326.3" font-size="9.4" fill="#1a1a1a" stroke="#1a1a1a" stroke-width="0.35" text-anchor="middle" textLength="9.4" lengthAdjust="spacingAndGlyphs">SE</text>
<text x="852.72" y="340.2" font-size="9.4" fill="#1a1a1a" stroke="#1a1a1a" stroke-width="0.35" text-anchor="middle" textLength="9.6" lengthAdjust="spacingAndGlyphs">21</text>
<text x="865.50" y="326.3" font-size="9.4" fill="#1a1a1a" stroke="#1a1a1a" stroke-width="0.35" text-anchor="middle" textLength="9.4" lengthAdjust="spacingAndGlyphs">SE</text>
<text x="865.50" y="340.2" font-size="9.4" fill="#1a1a1a" stroke="#1a1a1a" stroke-width="0.35" text-anchor="middle" textLength="9.6" lengthAdjust="spacingAndGlyphs">22</text>
<text x="878.28" y="326.3" font-size="9.4" fill="#1a1a1a" stroke="#1a1a1a" stroke-width="0.35" text-anchor="middle" textLength="9.4" lengthAdjust="spacingAndGlyphs">SE</text>
<text x="878.28" y="340.2" font-size="9.4" fill="#1a1a1a" stroke="#1a1a1a" stroke-width="0.35" text-anchor="middle" textLength="9.6" lengthAdjust="spacingAndGlyphs">23</text>
<text x="891.06" y="326.3" font-size="9.4" fill="#1a1a1a" stroke="#1a1a1a" stroke-width="0.35" text-anchor="middle" textLength="9.4" lengthAdjust="spacingAndGlyphs">SE</text>
<text x="891.06" y="340.2" font-size="9.4" fill="#1a1a1a" stroke="#1a1a1a" stroke-width="0.35" text-anchor="middle" textLength="9.6" lengthAdjust="spacingAndGlyphs">24</text>
<text x="903.83" y="326.3" font-size="9.4" fill="#1a1a1a" stroke="#1a1a1a" stroke-width="0.35" text-anchor="middle" textLength="9.4" lengthAdjust="spacingAndGlyphs">SE</text>
<text x="903.83" y="340.2" font-size="9.4" fill="#1a1a1a" stroke="#1a1a1a" stroke-width="0.35" text-anchor="middle" textLength="9.6" lengthAdjust="spacingAndGlyphs">25</text>
<text x="916.61" y="326.3" font-size="9.4" fill="#1a1a1a" stroke="#1a1a1a" stroke-width="0.35" text-anchor="middle" textLength="9.4" lengthAdjust="spacingAndGlyphs">SE</text>
<text x="916.61" y="340.2" font-size="9.4" fill="#1a1a1a" stroke="#1a1a1a" stroke-width="0.35" text-anchor="middle" textLength="9.6" lengthAdjust="spacingAndGlyphs">26</text>
<text x="329.1" y="360.2" font-size="10" fill="#222" stroke="#222" stroke-width="0.28" text-anchor="middle" textLength="21" lengthAdjust="spacingAndGlyphs">2020</text>
<text x="757" y="360.2" font-size="10" fill="#222" stroke="#222" stroke-width="0.28" text-anchor="middle" textLength="21" lengthAdjust="spacingAndGlyphs">2021</text>
<text x="495.1" y="376.8" font-size="11" font-weight="bold" fill="#111" stroke="#111" stroke-width="0.32" text-anchor="middle" textLength="154" lengthAdjust="spacingAndGlyphs">SEMANAS EPIDEMIOLÓGICAS</text>
<path d="M73.29,309.48 C75.42,309.48 81.81,309.47 86.07,309.47 C90.33,309.47 94.58,309.48 98.84,309.47 C103.10,309.47 107.36,309.46 111.62,309.46 C115.88,309.45 120.14,309.47 124.40,309.45 C128.66,309.42 132.92,309.31 137.18,309.29 C141.44,309.26 145.70,309.28 149.95,309.28 C154.21,309.28 158.47,309.28 162.73,309.28 C166.99,309.28 171.25,309.28 175.51,309.28 C179.77,309.27 184.03,309.27 188.29,309.25 C192.55,309.23 196.81,309.19 201.06,309.18 C205.32,309.17 209.58,309.17 213.84,309.17 C218.10,309.17 222.36,309.16 226.62,309.16 C230.88,309.16 235.14,309.16 239.40,309.15 C243.66,309.15 247.92,309.15 252.18,309.14 C256.43,309.14 260.69,309.14 264.95,309.13 C269.21,309.13 273.47,309.14 277.73,309.13 C281.99,309.13 286.25,309.10 290.51,309.09 C294.77,309.08 299.03,309.07 303.29,309.06 C307.55,309.06 311.80,309.06 316.06,309.05 C320.32,309.05 324.58,309.03 328.84,309.03 C333.10,309.02 337.36,309.02 341.62,309.02 C345.88,309.02 350.14,309.03 354.40,309.02 C358.66,309.01 362.91,308.99 367.17,308.97 C371.43,308.96 375.69,308.94 379.95,308.92 C384.21,308.90 388.47,308.90 392.73,308.87 C396.99,308.83 401.25,308.80 405.51,308.72 C409.77,308.65 414.03,308.53 418.28,308.42 C422.54,308.31 426.80,308.17 431.06,308.05 C435.32,307.93 439.58,307.83 443.84,307.70 C448.10,307.57 452.36,307.43 456.62,307.27 C460.88,307.11 465.14,306.92 469.39,306.76 C473.65,306.61 477.91,306.48 482.17,306.33 C486.43,306.18 490.69,306.04 494.95,305.87 C499.21,305.70 503.47,305.48 507.73,305.29 C511.99,305.10 516.25,304.90 520.51,304.71 C524.76,304.52 529.02,304.38 533.28,304.13 C537.54,303.88 541.80,303.62 546.06,303.20 C550.32,302.79 554.58,302.26 558.84,301.63 C563.10,301.00 567.36,300.28 571.62,299.41 C575.87,298.54 580.13,297.86 584.39,296.42 C588.65,294.99 592.91,293.23 597.17,290.81 C601.43,288.40 605.69,284.92 609.95,281.95 C614.21,278.97 618.47,276.02 622.73,272.97 C626.99,269.92 631.24,266.56 635.50,263.66 C639.76,260.76 644.02,258.03 648.28,255.55 C652.54,253.07 656.80,250.99 661.06,248.76 C665.32,246.53 669.58,244.52 673.84,242.17 C678.10,239.82 682.35,237.17 686.61,234.67 C690.87,232.17 695.13,229.70 699.39,227.18 C703.65,224.66 707.91,222.06 712.17,219.54 C716.43,217.02 720.69,214.67 724.95,212.08 C729.21,209.48 733.47,206.64 737.72,203.98 C741.98,201.31 746.24,198.70 750.50,196.10 C754.76,193.50 759.02,190.96 763.28,188.40 C767.54,185.84 771.80,183.38 776.06,180.74 C780.32,178.10 784.58,175.09 788.84,172.58 C793.09,170.06 797.35,168.07 801.61,165.65 C805.87,163.23 810.13,160.72 814.39,158.06 C818.65,155.39 822.91,152.77 827.17,149.65 C831.43,146.54 835.69,142.94 839.95,139.39 C844.20,135.84 848.46,132.00 852.72,128.34 C856.98,124.69 861.24,121.13 865.50,117.43 C869.76,113.74 874.02,109.94 878.28,106.19 C882.54,102.43 886.80,98.68 891.06,94.90 C895.32,91.13 899.57,87.28 903.83,83.55 C908.09,79.82 914.48,74.36 916.61,72.52" fill="none" stroke="#3a3a3a" stroke-width="2"/>
<text x="73.29" y="303.33" font-size="8.8" font-weight="bold" fill="#222" stroke="#222" stroke-width="0.2" text-anchor="middle" textLength="4.4" lengthAdjust="spacingAndGlyphs">2</text>
<text x="86.07" y="303.51" font-size="8.8" font-weight="bold" fill="#222" stroke="#222" stroke-width="0.2" text-anchor="middle" textLength="4.4" lengthAdjust="spacingAndGlyphs">1</text>
<text x="111.62" y="303.33" font-size="8.8" font-weight="bold" fill="#222" stroke="#222" stroke-width="0.2" text-anchor="middle" textLength="4.4" lengthAdjust="spacingAndGlyphs">2</text>
<text x="124.40" y="303.51" font-size="8.8" font-weight="bold" fill="#222" stroke="#222" stroke-width="0.2" text-anchor="middle" textLength="4.4" lengthAdjust="spacingAndGlyphs">1</text>
<text x="137.18" y="300.35" font-size="8.8" font-weight="bold" fill="#222" stroke="#222" stroke-width="0.2" text-anchor="middle" textLength="8.8" lengthAdjust="spacingAndGlyphs">18</text>
<text x="149.95" y="303.51" font-size="8.8" font-weight="bold" fill="#222" stroke="#222" stroke-width="0.2" text-anchor="middle" textLength="4.4" lengthAdjust="spacingAndGlyphs">1</text>
<text x="188.29" y="303.14" font-size="8.8" font-weight="bold" fill="#222" stroke="#222" stroke-width="0.2" text-anchor="middle" textLength="4.4" lengthAdjust="spacingAndGlyphs">3</text>
<text x="201.06" y="302.21" font-size="8.8" font-weight="bold" fill="#222" stroke="#222" stroke-width="0.2" text-anchor="middle" textLength="4.4" lengthAdjust="spacingAndGlyphs">8</text>
<text x="213.84" y="303.51" font-size="8.8" font-weight="bold" fill="#222" stroke="#222" stroke-width="0.2" text-anchor="middle" textLength="4.4" lengthAdjust="spacingAndGlyphs">1</text>
<text x="226.62" y="303.51" font-size="8.8" font-weight="bold" fill="#222" stroke="#222" stroke-width="0.2" text-anchor="middle" textLength="4.4" lengthAdjust="spacingAndGlyphs">1</text>
<text x="239.40" y="303.51" font-size="8.8" font-weight="bold" fill="#222" stroke="#222" stroke-width="0.2" text-anchor="middle" textLength="4.4" lengthAdjust="spacingAndGlyphs">1</text>
<text x="252.18" y="303.51" font-size="8.8" font-weight="bold" fill="#222" stroke="#222" stroke-width="0.2" text-anchor="middle" textLength="4.4" lengthAdjust="spacingAndGlyphs">1</text>
<text x="264.95" y="303.51" font-size="8.8" font-weight="bold" fill="#222" stroke="#222" stroke-width="0.2" text-anchor="middle" textLength="4.4" lengthAdjust="spacingAndGlyphs">1</text>
<text x="290.51" y="302.77" font-size="8.8" font-weight="bold" fill="#222" stroke="#222" stroke-width="0.2" text-anchor="middle" textLength="4.4" lengthAdjust="spacingAndGlyphs">5</text>
<text x="303.29" y="303.14" font-size="8.8" font-weight="bold" fill="#222" stroke="#222" stroke-width="0.2" text-anchor="middle" textLength="4.4" lengthAdjust="spacingAndGlyphs">3</text>
<text x="316.06" y="303.51" font-size="8.8" font-weight="bold" fill="#222" stroke="#222" stroke-width="0.2" text-anchor="middle" textLength="4.4" lengthAdjust="spacingAndGlyphs">1</text>
<text x="328.84" y="303.14" font-size="8.8" font-weight="bold" fill="#222" stroke="#222" stroke-width="0.2" text-anchor="middle" textLength="4.4" lengthAdjust="spacingAndGlyphs">3</text>
<text x="341.62" y="303.51" font-size="8.8" font-weight="bold" fill="#222" stroke="#222" stroke-width="0.2" text-anchor="middle" textLength="4.4" lengthAdjust="spacingAndGlyphs">1</text>
<text x="367.17" y="302.77" font-size="8.8" font-weight="bold" fill="#222" stroke="#222" stroke-width="0.2" text-anchor="middle" textLength="4.4" lengthAdjust="spacingAndGlyphs">5</text>
<text x="379.95" y="302.58" font-size="8.8" font-weight="bold" fill="#222" stroke="#222" stroke-width="0.2" text-anchor="middle" textLength="4.4" lengthAdjust="spacingAndGlyphs">6</text>
<text x="392.73" y="302.58" font-size="8.8" font-weight="bold" fill="#222" stroke="#222" stroke-width="0.2" text-anchor="middle" textLength="4.4" lengthAdjust="spacingAndGlyphs">6</text>
<text x="405.51" y="300.72" font-size="8.8" font-weight="bold" fill="#222" stroke="#222" stroke-width="0.2" text-anchor="middle" textLength="8.8" lengthAdjust="spacingAndGlyphs">16</text>
<text x="418.28" y="297.38" font-size="8.8" font-weight="bold" fill="#222" stroke="#222" stroke-width="0.2" text-anchor="middle" textLength="8.8" lengthAdjust="spacingAndGlyphs">34</text>
<text x="431.06" y="295.89" font-size="8.8" font-weight="bold" fill="#222" stroke="#222" stroke-width="0.2" text-anchor="middle" textLength="8.8" lengthAdjust="spacingAndGlyphs">42</text>
<text x="443.84" y="296.45" font-size="8.8" font-weight="bold" fill="#222" stroke="#222" stroke-width="0.2" text-anchor="middle" textLength="8.8" lengthAdjust="spacingAndGlyphs">39</text>
<text x="456.62" y="294.77" font-size="8.8" font-weight="bold" fill="#222" stroke="#222" stroke-width="0.2" text-anchor="middle" textLength="8.8" lengthAdjust="spacingAndGlyphs">48</text>
<text x="469.39" y="293.10" font-size="8.8" font-weight="bold" fill="#222" stroke="#222" stroke-width="0.2" text-anchor="middle" textLength="8.8" lengthAdjust="spacingAndGlyphs">57</text>
<text x="482.17" y="294.77" font-size="8.8" font-weight="bold" fill="#222" stroke="#222" stroke-width="0.2" text-anchor="middle" textLength="8.8" lengthAdjust="spacingAndGlyphs">48</text>
<text x="494.95" y="294.03" font-size="8.8" font-weight="bold" fill="#222" stroke="#222" stroke-width="0.2" text-anchor="middle" textLength="8.8" lengthAdjust="spacingAndGlyphs">52</text>
<text x="507.73" y="291.61" font-size="8.8" font-weight="bold" fill="#222" stroke="#222" stroke-width="0.2" text-anchor="middle" textLength="8.8" lengthAdjust="spacingAndGlyphs">65</text>
<text x="520.51" y="291.61" font-size="8.8" font-weight="bold" fill="#222" stroke="#222" stroke-width="0.2" text-anchor="middle" textLength="8.8" lengthAdjust="spacingAndGlyphs">65</text>
<text x="533.28" y="291.61" font-size="8.8" font-weight="bold" fill="#222" stroke="#222" stroke-width="0.2" text-anchor="middle" textLength="8.8" lengthAdjust="spacingAndGlyphs">65</text>
<text x="546.06" y="284.36" font-size="8.8" font-weight="bold" fill="#222" stroke="#222" stroke-width="0.2" text-anchor="middle" textLength="13.2" lengthAdjust="spacingAndGlyphs">104</text>
<text x="558.84" y="270.96" font-size="8.8" font-weight="bold" fill="#222" stroke="#222" stroke-width="0.2" text-anchor="middle" textLength="13.2" lengthAdjust="spacingAndGlyphs">176</text>
<text x="571.62" y="257.39" font-size="8.8" font-weight="bold" fill="#222" stroke="#222" stroke-width="0.2" text-anchor="middle" textLength="13.2" lengthAdjust="spacingAndGlyphs">249</text>
<text x="584.39" y="241.39" font-size="8.8" font-weight="bold" fill="#222" stroke="#222" stroke-width="0.2" text-anchor="middle" textLength="13.2" lengthAdjust="spacingAndGlyphs">335</text>
<text x="597.30" y="186.50" font-size="8.8" font-weight="bold" fill="#222" stroke="#222" stroke-width="0.2" text-anchor="middle" textLength="13.2" lengthAdjust="spacingAndGlyphs">629</text>
<text x="606.00" y="135.80" font-size="8.8" font-weight="bold" fill="#222" stroke="#222" stroke-width="0.2" text-anchor="middle" textLength="13.2" lengthAdjust="spacingAndGlyphs">994</text>
<text x="622.40" y="116.00" font-size="8.8" font-weight="bold" fill="#222" stroke="#222" stroke-width="0.2" text-anchor="middle" textLength="17.6" lengthAdjust="spacingAndGlyphs">1006</text>
<text x="635.20" y="109.00" font-size="8.8" font-weight="bold" fill="#222" stroke="#222" stroke-width="0.2" text-anchor="middle" textLength="17.6" lengthAdjust="spacingAndGlyphs">1044</text>
<text x="648.10" y="134.10" font-size="8.8" font-weight="bold" fill="#222" stroke="#222" stroke-width="0.2" text-anchor="middle" textLength="13.2" lengthAdjust="spacingAndGlyphs">909</text>
<text x="660.50" y="162.00" font-size="8.8" font-weight="bold" fill="#222" stroke="#222" stroke-width="0.2" text-anchor="middle" textLength="13.2" lengthAdjust="spacingAndGlyphs">761</text>
<text x="674.40" y="170.80" font-size="8.8" font-weight="bold" fill="#222" stroke="#222" stroke-width="0.2" text-anchor="middle" textLength="13.2" lengthAdjust="spacingAndGlyphs">739</text>
<text x="686.50" y="146.50" font-size="8.8" font-weight="bold" fill="#222" stroke="#222" stroke-width="0.2" text-anchor="middle" textLength="13.2" lengthAdjust="spacingAndGlyphs">841</text>
<text x="699.40" y="161.50" font-size="8.8" font-weight="bold" fill="#222" stroke="#222" stroke-width="0.2" text-anchor="middle" textLength="13.2" lengthAdjust="spacingAndGlyphs">840</text>
<text x="711.90" y="143.90" font-size="8.8" font-weight="bold" fill="#222" stroke="#222" stroke-width="0.2" text-anchor="middle" textLength="13.2" lengthAdjust="spacingAndGlyphs">856</text>
<text x="724.70" y="147.80" font-size="8.8" font-weight="bold" fill="#222" stroke="#222" stroke-width="0.2" text-anchor="middle" textLength="13.2" lengthAdjust="spacingAndGlyphs">837</text>
<text x="737.50" y="135.00" font-size="8.8" font-weight="bold" fill="#222" stroke="#222" stroke-width="0.2" text-anchor="middle" textLength="13.2" lengthAdjust="spacingAndGlyphs">908</text>
<text x="750.70" y="138.90" font-size="8.8" font-weight="bold" fill="#222" stroke="#222" stroke-width="0.2" text-anchor="middle" textLength="13.2" lengthAdjust="spacingAndGlyphs">883</text>
<text x="763.30" y="160.90" font-size="8.8" font-weight="bold" fill="#222" stroke="#222" stroke-width="0.2" text-anchor="middle" textLength="13.2" lengthAdjust="spacingAndGlyphs">863</text>
<text x="775.80" y="142.90" font-size="8.8" font-weight="bold" fill="#222" stroke="#222" stroke-width="0.2" text-anchor="middle" textLength="13.2" lengthAdjust="spacingAndGlyphs">859</text>
<text x="788.70" y="133.10" font-size="8.8" font-weight="bold" fill="#222" stroke="#222" stroke-width="0.2" text-anchor="middle" textLength="13.2" lengthAdjust="spacingAndGlyphs">915</text>
<text x="801.30" y="158.30" font-size="8.8" font-weight="bold" fill="#222" stroke="#222" stroke-width="0.2" text-anchor="middle" textLength="13.2" lengthAdjust="spacingAndGlyphs">777</text>
<text x="813.90" y="144.70" font-size="8.8" font-weight="bold" fill="#222" stroke="#222" stroke-width="0.2" text-anchor="middle" textLength="13.2" lengthAdjust="spacingAndGlyphs">851</text>
<text x="826.60" y="127.90" font-size="8.8" font-weight="bold" fill="#222" stroke="#222" stroke-width="0.2" text-anchor="middle" textLength="13.2" lengthAdjust="spacingAndGlyphs">942</text>
<text x="833.30" y="116.60" font-size="8.8" font-weight="bold" fill="#222" stroke="#222" stroke-width="0.2" text-anchor="middle" textLength="17.6" lengthAdjust="spacingAndGlyphs">1151</text>
<text x="850.80" y="106.10" font-size="8.8" font-weight="bold" fill="#222" stroke="#222" stroke-width="0.2" text-anchor="middle" textLength="17.6" lengthAdjust="spacingAndGlyphs">1238</text>
<text x="860.40" y="92.00" font-size="8.8" font-weight="bold" fill="#222" stroke="#222" stroke-width="0.2" text-anchor="middle" textLength="17.6" lengthAdjust="spacingAndGlyphs">1223</text>
<text x="873.50" y="79.60" font-size="8.8" font-weight="bold" fill="#222" stroke="#222" stroke-width="0.2" text-anchor="middle" textLength="17.6" lengthAdjust="spacingAndGlyphs">1261</text>
<text x="886.20" y="73.20" font-size="8.8" font-weight="bold" fill="#222" stroke="#222" stroke-width="0.2" text-anchor="middle" textLength="17.6" lengthAdjust="spacingAndGlyphs">1265</text>
<text x="903.30" y="67.30" font-size="8.8" font-weight="bold" fill="#222" stroke="#222" stroke-width="0.2" text-anchor="middle" textLength="17.6" lengthAdjust="spacingAndGlyphs">1273</text>
<text x="917.00" y="73.00" font-size="8.8" font-weight="bold" fill="#222" stroke="#222" stroke-width="0.2" text-anchor="middle" textLength="17.6" lengthAdjust="spacingAndGlyphs">1236</text>
<rect x="930.2" y="68.9" width="27.3" height="12.2" fill="#c4c4c4"/>
<text x="943.3" y="78.7" font-size="8.8" font-weight="bold" fill="#222" stroke="#222" stroke-width="0.32" text-anchor="middle" textLength="22.5" lengthAdjust="spacingAndGlyphs">26567</text>
<text transform="translate(31.4,191.1) rotate(-90)" font-size="12.6" font-weight="bold" fill="#111" stroke="#111" stroke-width="0.32" text-anchor="middle" textLength="93.3" lengthAdjust="spacingAndGlyphs">POSITIVOS POR SE</text>
<text transform="translate(976.4,190.2) rotate(-90)" font-size="12.6" font-weight="bold" fill="#111" stroke="#111" stroke-width="0.32" text-anchor="middle" textLength="112.9" lengthAdjust="spacingAndGlyphs">CASOS ACUMULADOS</text>
<rect x="416.5" y="59.5" width="16.8" height="5.9" fill="#686868" stroke="#4a4a4a" stroke-width="0.7"/>
<text x="435.3" y="65.4" font-size="9.5" font-weight="bold" fill="#111" stroke="#111" stroke-width="0.32" textLength="46.8" lengthAdjust="spacingAndGlyphs">POSITIVOS</text>
<text x="435.3" y="78.4" font-size="9.5" font-weight="bold" fill="#111" stroke="#111" stroke-width="0.32" textLength="54.8" lengthAdjust="spacingAndGlyphs">SEMANALES</text>
<line x1="502.4" y1="62.4" x2="519.4" y2="62.4" stroke="#3a3a3a" stroke-width="2"/>
<text x="521" y="65.4" font-size="9.5" font-weight="bold" fill="#111" stroke="#111" stroke-width="0.32" textLength="30" lengthAdjust="spacingAndGlyphs">CASOS</text>
<text x="521" y="78.4" font-size="9.5" font-weight="bold" fill="#111" stroke="#111" stroke-width="0.32" textLength="66" lengthAdjust="spacingAndGlyphs">ACUMULADOS</text>
<rect x="81.8" y="78.5" width="212.3" height="53.2" rx="8" ry="8" fill="#bdbdbd" stroke="#111" stroke-width="2"/>
<text x="188" y="101" font-size="9.5" font-weight="bold" fill="#111" stroke="#111" stroke-width="0.32" text-anchor="middle" textLength="156.7" lengthAdjust="spacingAndGlyphs">Total de casos de la última semana:</text>
<text x="187.6" y="115.4" font-size="12" font-weight="bold" fill="#383838" stroke="#383838" stroke-width="0.32" text-anchor="middle" textLength="28.8" lengthAdjust="spacingAndGlyphs">1.236</text>
<path d="M411.5,142.9 L411.5,116.2 A28,28 0 0 1 439.5,88.2 L597.4,88.2 L597.4,118.9 A24,24 0 0 1 573.4,142.9 Z" fill="#b6b6b6" stroke="#111" stroke-width="2"/>
<text x="504.7" y="110.7" font-size="9.5" font-weight="bold" fill="#111" stroke="#111" stroke-width="0.32" text-anchor="middle" textLength="64.6" lengthAdjust="spacingAndGlyphs">Total de casos:</text>
<text x="504.7" y="127" font-size="12.5" font-weight="bold" fill="#363636" stroke="#363636" stroke-width="0.32" text-anchor="middle" textLength="39.3" lengthAdjust="spacingAndGlyphs">26.567</text>
<ellipse cx="414.4" cy="199.7" rx="129.5" ry="30.8" fill="#e8e8e8" stroke="#1a1a1a" stroke-width="2.6"/>
<text x="414.2" y="188" font-size="9.5" font-weight="bold" fill="#111" stroke="#111" stroke-width="0.32" text-anchor="middle" textLength="127.5" lengthAdjust="spacingAndGlyphs">Máxima semanal registrada:</text>
<text x="414.1" y="204.5" font-size="12" font-weight="bold" fill="#5c5c5c" stroke="#5c5c5c" stroke-width="0.1" text-anchor="middle" textLength="65.7" lengthAdjust="spacingAndGlyphs">1.273 casos</text>
<text x="414" y="218.75" font-size="9.5" font-weight="bold" fill="#111" stroke="#111" stroke-width="0.32" text-anchor="middle" textLength="75.5" lengthAdjust="spacingAndGlyphs">en semana 25/21</text>
<rect x="14.5" y="383.5" width="970.5" height="34" fill="#cbcbcb"/>
<text x="21.6" y="398" style="font-family:'Liberation Serif',serif" font-size="12.5" fill="#111" stroke="#111" stroke-width="0.32" lengthAdjust="spacingAndGlyphs" font-weight="bold" textLength="55.8">FUENTE:</text>
<text x="79.8" y="398" style="font-family:'Liberation Serif',serif" font-size="12.5" fill="#111" stroke="#111" stroke-width="0.28" lengthAdjust="spacingAndGlyphs" textLength="366">Parte Epidemiológico COVID-19. Gobierno de Misiones. Misiones. 2021</text>
<text x="21.6" y="413" style="font-family:'Liberation Serif',serif" font-size="12.5" fill="#111" stroke="#111" stroke-width="0.32" lengthAdjust="spacingAndGlyphs" font-weight="bold" textLength="99.6">ELABORACIÓN:</text>
<text x="123.6" y="413" style="font-family:'Liberation Serif',serif" font-size="12.5" fill="#111" stroke="#111" stroke-width="0.28" lengthAdjust="spacingAndGlyphs" textLength="378">Sala de Situación. Ministerio de Salud Pública. Provincia de Misiones. 2021</text>
</svg></body></html>
